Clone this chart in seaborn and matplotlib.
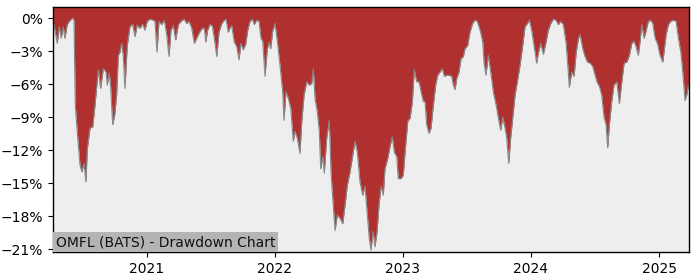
import numpy as np
import pandas as pd
import matplotlib
matplotlib.use("Agg")
import matplotlib.pyplot as plt
import matplotlib.ticker as mticker
import matplotlib.dates as mdates
import seaborn as sns

# time as decimal years, drawdown in percent
years = [
    2020.266, 2020.273, 2020.299, 2020.315, 2020.330, 2020.346, 2020.359, 2020.377, 2020.393, 2020.420,
    2020.430, 2020.440, 2020.455, 2020.477, 2020.492, 2020.508, 2020.523, 2020.534, 2020.555, 2020.576,
    2020.594, 2020.620, 2020.638, 2020.659, 2020.680, 2020.690, 2020.705, 2020.716, 2020.732, 2020.748,
    2020.763, 2020.776, 2020.789, 2020.802, 2020.815, 2020.828, 2020.846, 2020.867, 2020.888, 2020.906,
    2020.924, 2020.945, 2020.966, 2020.984, 2021.002, 2021.023, 2021.049, 2021.0625, 2021.078, 2021.094,
    2021.115, 2021.135, 2021.154, 2021.172, 2021.1875, 2021.205, 2021.224, 2021.245, 2021.266, 2021.291,
    2021.310, 2021.328, 2021.349, 2021.370, 2021.388, 2021.406, 2021.427, 2021.448, 2021.459, 2021.474,
    2021.492, 2021.510, 2021.526, 2021.545, 2021.5625, 2021.584, 2021.604, 2021.617, 2021.635, 2021.648,
    2021.662, 2021.682, 2021.701, 2021.719, 2021.734, 2021.752, 2021.771, 2021.787, 2021.805, 2021.823,
    2021.838, 2021.857, 2021.875, 2021.891, 2021.904, 2021.922, 2021.940, 2021.955, 2021.966, 2021.982,
    2022.000, 2022.018, 2022.039, 2022.060, 2022.070, 2022.086, 2022.104, 2022.123, 2022.143, 2022.156,
    2022.174, 2022.195, 2022.209, 2022.227, 2022.248, 2022.268, 2022.287, 2022.299, 2022.3125, 2022.330,
    2022.346, 2022.357, 2022.373, 2022.385, 2022.404, 2022.424, 2022.4375, 2022.451, 2022.469, 2022.487,
    2022.508, 2022.529, 2022.547, 2022.565, 2022.586, 2022.607, 2022.625, 2022.643, 2022.664, 2022.685,
    2022.703, 2022.719, 2022.736, 2022.750, 2022.766, 2022.781, 2022.797, 2022.8125, 2022.828, 2022.846,
    2022.859, 2022.880, 2022.898, 2022.916, 2022.932, 2022.951, 2022.963, 2022.984, 2023.002, 2023.016,
    2023.037, 2023.055, 2023.073, 2023.088, 2023.107, 2023.125, 2023.141, 2023.159, 2023.172, 2023.185,
    2023.203, 2023.219, 2023.237, 2023.255, 2023.271, 2023.289, 2023.307, 2023.323, 2023.341, 2023.359,
    2023.380, 2023.393, 2023.406, 2023.420, 2023.4375, 2023.453, 2023.471, 2023.484, 2023.505, 2023.523,
    2023.543, 2023.5625, 2023.580, 2023.602, 2023.623, 2023.633, 2023.648, 2023.666, 2023.685, 2023.705,
    2023.727, 2023.745, 2023.763, 2023.779, 2023.797, 2023.810, 2023.826, 2023.841, 2023.857, 2023.875,
    2023.893, 2023.914, 2023.935, 2023.953, 2023.971, 2023.987, 2024.005, 2024.023, 2024.044, 2024.057,
    2024.076, 2024.096, 2024.117, 2024.135, 2024.154, 2024.174, 2024.195, 2024.213, 2024.232, 2024.252,
    2024.273, 2024.291, 2024.299, 2024.318, 2024.336, 2024.352, 2024.370, 2024.383, 2024.404, 2024.422,
    2024.440, 2024.461, 2024.482, 2024.500, 2024.518, 2024.534, 2024.552, 2024.570, 2024.586, 2024.599,
    2024.612, 2024.630, 2024.648, 2024.670, 2024.690, 2024.709, 2024.727, 2024.748, 2024.768, 2024.787,
    2024.805, 2024.820, 2024.838, 2024.852, 2024.865, 2024.883, 2024.898, 2024.916, 2024.935, 2024.951,
    2024.969, 2024.987, 2025.008, 2025.029, 2025.039, 2025.055, 2025.073, 2025.091, 2025.112, 2025.133,
    2025.151, 2025.170, 2025.185, 2025.203, 2025.216, 2025.229, 2025.234,
]

drawdown = [
    -0.5, -0.6, -2.3, -0.8, -1.85, -0.8, -1.85, -0.6, -0.3, 0.0,
    -0.2, -7.9, -10.3, -13.4, -14.0, -13.2, -14.9, -11.9, -10.0, -9.9,
    -7.9, -4.7, -6.4, -4.6, -4.9, -6.1, -5.0, -6.2, -9.7, -8.8,
    -7.0, -3.4, -3.1, -2.3, -3.5, -6.4, -2.5, -0.8, -0.55, -1.7,
    -0.64, -0.94, -0.55, -1.1, -0.3, -0.1, -0.2, -0.3, -3.1, -0.3,
    -0.6, -0.2, -1.5, -3.5, -1.1, -0.7, -2.0, -0.6, -0.3, -0.1,
    -0.5, -0.3, -0.9, -2.3, -1.85, -1.4, -1.0, -0.9, -2.2, -1.1,
    -0.6, -0.7, -1.85, -3.5, -1.3, -0.5, -0.2, -0.1, -1.3, -0.9,
    -0.7, -2.2, -2.6, -3.8, -2.3, -2.9, -2.4, -1.1, -0.3, -0.1,
    -0.6, -0.2, -0.3, -1.85, -2.1, -5.3, -2.8, -2.2, -2.8, -1.2,
    -0.5, -2.1, -4.3, -6.7, -9.3, -6.7, -7.3, -8.2, -11.2, -10.3,
    -10.9, -12.3, -9.4, -7.0, -5.8, -6.1, -5.95, -4.6, -7.3, -8.5,
    -10.3, -13.7, -12.6, -14.1, -10.9, -9.3, -14.0, -16.4, -19.3, -17.9,
    -18.2, -18.7, -17.0, -15.2, -14.0, -12.5, -11.2, -12.2, -14.9, -16.1,
    -15.3, -17.6, -20.0, -21.1, -19.4, -20.8, -19.4, -17.0, -15.3, -16.1,
    -13.7, -12.8, -11.7, -10.8, -12.2, -12.6, -14.6, -14.6, -14.3, -12.2,
    -9.4, -9.1, -7.6, -4.7, -5.8, -5.8, -6.7, -7.6, -7.6, -9.7,
    -10.5, -10.0, -7.9, -6.1, -5.2, -4.9, -4.6, -5.3, -5.2, -5.2,
    -5.3, -6.1, -6.5, -5.5, -4.9, -3.7, -3.5, -2.8, -2.5, -1.3,
    -0.5, -0.2, -0.3, -1.1, -2.2, -4.1, -5.2, -3.4, -4.9, -6.7,
    -7.9, -9.1, -10.2, -9.0, -10.0, -10.9, -13.2, -10.9, -9.1, -7.0,
    -5.8, -4.3, -2.5, -0.8, -0.5, -0.2, -1.1, -2.5, -4.1, -3.2,
    -2.3, -3.3, -2.2, -1.1, -0.5, -0.1, -0.2, -0.6, -0.3, -0.6,
    -2.2, -4.9, -6.3, -4.9, -5.3, -3.2, -1.85, -1.5, -2.8, -3.5,
    -4.0, -4.1, -4.4, -5.2, -5.9, -6.2, -7.0, -9.0, -9.7, -11.8,
    -9.7, -7.6, -6.1, -5.8, -7.8, -5.8, -4.1, -4.0, -3.4, -2.3,
    -2.1, -2.6, -3.4, -2.1, -0.6, -1.85, -1.2, -0.3, -0.2, -0.5,
    -1.85, -2.3, -3.4, -4.0, -3.1, -1.5, -0.6, -0.3, -0.2, -0.3,
    -1.85, -3.1, -4.9, -7.5, -7.0, -6.1, -6.5,
]

year_ticks = [2021, 2022, 2023, 2024, 2025]
pct_ticks = [0, -3, -6, -9, -12, -15, -18, -21]
title_text = "OMFL (BATS) - Drawdown Chart"

yrs = np.array(years)
dates = pd.Timestamp("2021-01-01") + pd.to_timedelta((yrs - 2021) * 365.25, unit="D")
df = pd.DataFrame({"date": dates, "dd": drawdown})

sns.set_style("white", {"axes.facecolor": "#EEEEEE", "axes.edgecolor": "black"})
plt.rcParams["font.family"] = ["DejaVu Sans"]

fig = plt.figure(figsize=(7, 2.8), dpi=100)
ax = fig.add_axes([53 / 700, 1 - 252 / 280, 636 / 700, 245 / 280])

ytop = 1.0
ax.fill_between(df["date"], df["dd"], ytop, color="#B03030", linewidth=0)
sns.lineplot(data=df, x="date", y="dd", ax=ax, color="#888888", linewidth=0.8)

ax.set_xlim(df["date"].iloc[0], df["date"].iloc[-1])
ax.set_ylim(-21.27, ytop)
ax.set_yticks(pct_ticks)
ax.yaxis.set_major_formatter(mticker.FuncFormatter(lambda v, p: f"{v:.0f}%".replace("-", "\u2212")))
ax.set_xticks([pd.Timestamp(f"{y}-01-01") for y in year_ticks])
ax.xaxis.set_major_formatter(mdates.DateFormatter("%Y"))
ax.set_xlabel("")
ax.set_ylabel("")
ax.tick_params(axis="both", which="both", direction="out", length=3.5, width=0.8,
               colors="black", labelsize=10, left=True, bottom=True)
for s in ax.spines.values():
    s.set_visible(True)
    s.set_color("black")
    s.set_linewidth(1.0)

ax.text(0.0045, 0.012, title_text, transform=ax.transAxes, ha="left", va="bottom",
        fontsize=10, color="#111111",
        bbox=dict(boxstyle="square,pad=0.2", facecolor="#B4B4B4", edgecolor="none"))

fig.savefig("out.png", dpi=100)
